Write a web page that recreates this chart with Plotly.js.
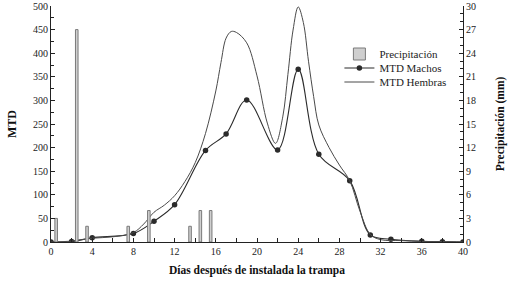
<!DOCTYPE html>
<html>
<head>
<meta charset="utf-8">
<script src="https://cdn.plot.ly/plotly-3.0.1.min.js"></script>
<style>
html,body{margin:0;padding:0;background:#fff;}
#chart{width:508px;height:286px;}
</style>
</head>
<body>
<div id="chart"></div>
<script>
// Precipitation (mm), right axis
const precipDays = [0.5, 2.5, 3.5, 7.5, 9.5, 13.5, 14.5, 15.5];
const precipMm = [3, 27, 2, 2, 4, 2, 4, 4];

// MTD Machos (sampled days with markers)
const machosDays = [0, 2, 4, 8, 10, 12, 15, 17, 19, 22, 24, 26, 29, 31, 33, 36, 38, 40];
const machosMTD = [0, 1, 9, 18, 44, 79, 194, 229, 301, 195, 366, 186, 130, 15, 6, 1.5, 0.5, 0];

// MTD Hembras (line)
const hembrasDays = [0, 2, 4, 6, 8, 9, 10, 11, 12, 13, 14, 15, 16, 16.5, 17, 17.5, 18, 19, 20, 21, 21.8, 22.5, 23, 23.5, 24, 24.5, 25, 25.5, 26, 27, 28, 29, 30, 31, 32, 34, 36, 38, 40];
const hembrasMTD = [0, 2, 8, 11, 20, 38, 63, 78, 98, 128, 168, 230, 320, 380, 432, 446, 444, 422, 352, 252, 209, 265, 355, 449, 498, 465, 383, 308, 248, 200, 163, 130, 65, 16, 5, 3, 1, 1, 0];

const xTickVals = [0, 4, 8, 12, 16, 20, 24, 28, 32, 36, 40];

const serif = '"Liberation Serif", "Times New Roman", Times, serif';

const traces = [
  {
    type: 'bar', name: 'Precipitación', legend: 'legend',
    x: precipDays, y: precipMm, yaxis: 'y2',
    width: 0.25,
    marker: {color: '#cfcfcf', line: {color: '#7a7a7a', width: 1}}
  },
  {
    type: 'scatter', mode: 'lines+markers', name: 'MTD Machos', legend: 'legend2',
    x: machosDays, y: machosMTD,
    line: {color: '#2b2b2b', width: 1.1, shape: 'spline', smoothing: 1},
    marker: {color: '#2b2b2b', size: 5.5, symbol: 'circle'}
  },
  {
    type: 'scatter', mode: 'lines', name: 'MTD Hembras', legend: 'legend3',
    x: hembrasDays, y: hembrasMTD,
    line: {color: '#4a4a4a', width: 1, shape: 'spline', smoothing: 1}
  }
];

function legendAt(py) {
  return {
    x: 0.70, y: (242 - py) / 236, xanchor: 'left', yanchor: 'middle',
    bgcolor: 'rgba(0,0,0,0)', borderwidth: 0,
    font: {family: serif, size: 11, color: '#222'},
    itemwidth: 30
  };
}

const layout = {
  width: 508, height: 286,
  margin: {l: 51, r: 45, t: 6, b: 44},
  paper_bgcolor: '#fff', plot_bgcolor: '#fff',
  font: {family: serif, size: 10, color: '#222'},
  showlegend: true,
  legend: legendAt(54),
  legend2: legendAt(68),
  legend3: legendAt(82),
  bargap: 0,
  xaxis: {
    range: [0, 40], tickvals: xTickVals, ticktext: xTickVals.map(String),
    showgrid: false, zeroline: false,
    showline: true, linecolor: '#222', linewidth: 1,
    ticks: 'inside', ticklen: 4, tickcolor: '#222',
    minor: {dtick: 2, tick0: 0, ticks: 'inside', ticklen: 4, tickcolor: '#222', showgrid: false},
    tickfont: {family: serif, size: 10},
    title: {text: 'Días después de instalada la trampa', font: {family: serif, size: 11.5, color: '#111', weight: 'bold'}, standoff: 9},
    fixedrange: true
  },
  yaxis: {
    range: [0, 500], dtick: 50, tick0: 0,
    showgrid: false, zeroline: false,
    showline: true, linecolor: '#222', linewidth: 1,
    ticks: 'inside', ticklen: 4, tickcolor: '#222',
    minor: {dtick: 25, ticks: 'inside', ticklen: 3, tickcolor: '#222', showgrid: false},
    tickfont: {family: serif, size: 10},
    title: {text: 'MTD', font: {family: serif, size: 12, color: '#111', weight: 'bold'}, standoff: 13},
    fixedrange: true
  },
  yaxis2: {
    overlaying: 'y', side: 'right',
    range: [0, 30], dtick: 3, tick0: 0,
    showgrid: false, zeroline: false,
    showline: true, linecolor: '#222', linewidth: 1,
    ticks: 'inside', ticklen: 4, tickcolor: '#222',
    minor: {dtick: 1, ticks: 'inside', ticklen: 3, tickcolor: '#222', showgrid: false},
    tickfont: {family: serif, size: 10},
    title: {text: 'Precipitación (mm)', font: {family: serif, size: 11.5, color: '#111', weight: 'bold'}, standoff: 20},
    fixedrange: true
  }
};

Plotly.newPlot('chart', traces, layout, {displayModeBar: false, staticPlot: true});
</script>
</body>
</html>
